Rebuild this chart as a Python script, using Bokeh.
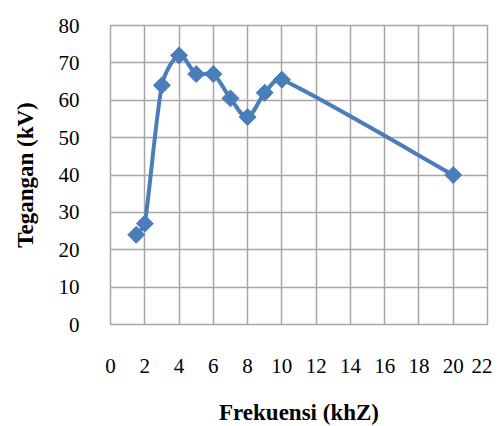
import math
from bokeh.plotting import figure
from bokeh.embed import file_html
from bokeh.resources import INLINE
from bokeh.models import Range1d, FixedTicker

freq_khz = [1.5, 2, 3, 4, 5, 6, 7, 8, 9, 10, 20]
voltage_kv = [24, 27, 64, 72, 67, 67, 60.5, 55.5, 62, 65.5, 40]
x_ticks = list(range(0, 23, 2))
y_ticks = list(range(0, 81, 10))

COLOR = "#4a7ebb"
FONT = "'Liberation Serif', 'Times New Roman', serif"
X_MAX, Y_MAX = 22, 80
FW, FH = 377, 299

p = figure(width=492, height=418, output_backend="svg", toolbar_location=None,
           x_range=Range1d(0, X_MAX), y_range=Range1d(0, Y_MAX),
           frame_width=FW, frame_height=FH,
           min_border_left=110, min_border_top=25, min_border_bottom=94, min_border_right=5)

# smoothed line (Excel-like Catmull-Rom in screen space, control arms clamped)
sx, sy = FW / X_MAX, FH / Y_MAX
n = len(freq_khz)
px = [v * sx for v in freq_khz]
py = [v * sy for v in voltage_kv]

def arm(i, seg_len):
    a = max(i - 1, 0)
    b = min(i + 1, n - 1)
    dx, dy = (px[b] - px[a]) / 6, (py[b] - py[a]) / 6
    L = math.hypot(dx, dy)
    lim = seg_len / 3
    if L > lim:
        dx, dy = dx * lim / L, dy * lim / L
    return dx, dy

x0, y0, x1, y1, cx0, cy0, cx1, cy1 = [], [], [], [], [], [], [], []
for i in range(n - 1):
    seg = math.hypot(px[i + 1] - px[i], py[i + 1] - py[i])
    ax0, ay0 = arm(i, seg)
    ax1, ay1 = arm(i + 1, seg)
    x0.append(freq_khz[i]); y0.append(voltage_kv[i])
    x1.append(freq_khz[i + 1]); y1.append(voltage_kv[i + 1])
    cx0.append((px[i] + ax0) / sx); cy0.append((py[i] + ay0) / sy)
    cx1.append((px[i + 1] - ax1) / sx); cy1.append((py[i + 1] - ay1) / sy)
p.bezier(x0=x0, y0=y0, x1=x1, y1=y1, cx0=cx0, cy0=cy0, cx1=cx1, cy1=cy1,
         line_color=COLOR, line_width=4)
p.scatter(freq_khz, voltage_kv, marker="square", angle=math.pi / 4, size=12,
          fill_color=COLOR, line_color=COLOR, line_width=1)

p.xaxis.ticker = FixedTicker(ticks=x_ticks)
p.yaxis.ticker = FixedTicker(ticks=y_ticks)
p.xgrid.ticker = FixedTicker(ticks=x_ticks)
p.ygrid.ticker = FixedTicker(ticks=y_ticks)
for g in (p.xgrid, p.ygrid):
    g.grid_line_color = "#a6a6a6"
    g.grid_line_width = 1.5
p.outline_line_color = "#a6a6a6"
p.outline_line_width = 1.5

for axis in (p.xaxis, p.yaxis):
    axis.axis_line_color = None
    axis.major_tick_line_color = None
    axis.minor_tick_line_color = None
    axis.major_label_text_font = FONT
    axis.major_label_text_font_size = "21px"
    axis.major_label_text_color = "#000000"
    axis.axis_label_text_font = FONT
    axis.axis_label_text_font_size = "23px"
    axis.axis_label_text_font_style = "bold"
    axis.axis_label_text_color = "#000000"

p.xaxis.axis_label = "Frekuensi (khZ)"
p.yaxis.axis_label = "Tegangan (kV)"
p.xaxis.major_label_standoff = 28
p.yaxis.major_label_standoff = 25
p.xaxis.axis_label_standoff = 24
p.yaxis.axis_label_standoff = 18

open("out.html", "w").write(file_html(p, INLINE))
